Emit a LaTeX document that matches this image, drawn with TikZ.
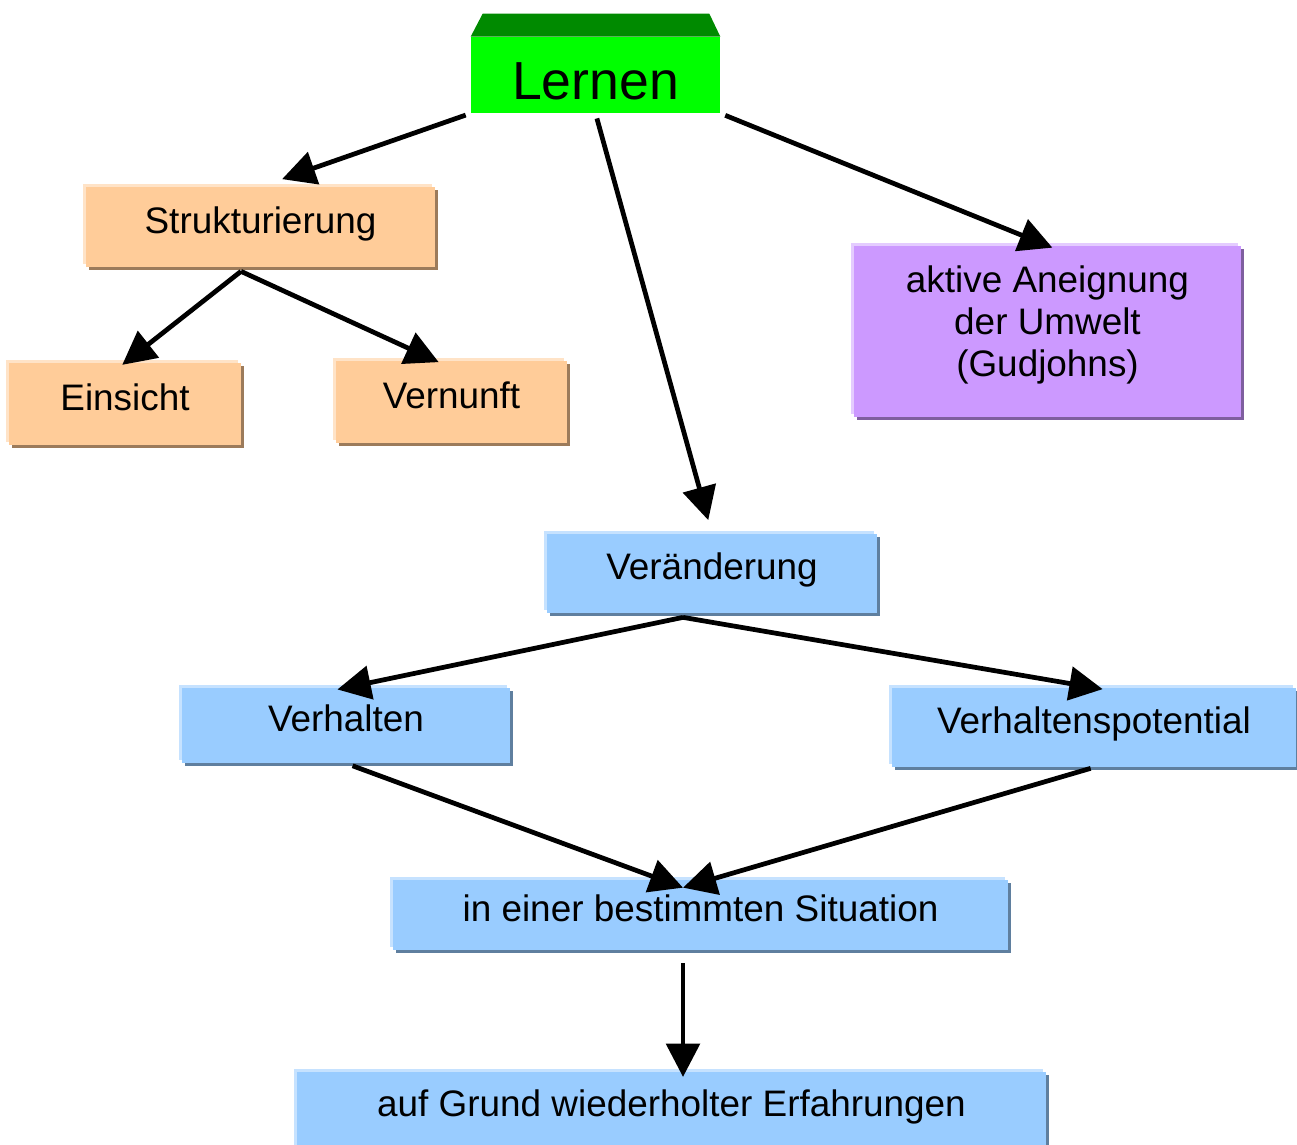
\documentclass[tikz,border=0pt]{standalone}
\usepackage{fontspec}
\setmainfont{Liberation Sans}
\usetikzlibrary{calc,arrows.meta,shadows}
\definecolor{lerngreen}{HTML}{00FF00}
\definecolor{lerndark}{HTML}{008A00}
\definecolor{orfill}{HTML}{FFCC99}
\definecolor{ordark}{HTML}{9C7B5B}
\definecolor{orlight}{HTML}{FFE3C7}
\definecolor{blfill}{HTML}{99CCFF}
\definecolor{bldark}{HTML}{5F7F9F}
\definecolor{bllight}{HTML}{C6E2FF}
\definecolor{pufill}{HTML}{CC99FF}
\definecolor{pudark}{HTML}{7F5F9F}
\definecolor{pulight}{HTML}{E4CCFF}

\begin{document}
\begin{tikzpicture}[x=0.02cm, y=-0.02cm,
    box/.style={rectangle, inner sep=0pt, align=center,
      font=\fontsize{21}{24}\selectfont},
    orbox/.style={box, fill=orfill, text height=15pt, text depth=8pt,
      general shadow={fill=orlight, shadow xshift=-1.5pt, shadow yshift=1.5pt},
      general shadow={fill=ordark, shadow xshift=1.5pt, shadow yshift=-1.5pt}},
    blbox/.style={box, fill=blfill, text height=15pt, text depth=8pt,
      general shadow={fill=bllight, shadow xshift=-1.5pt, shadow yshift=1.5pt},
      general shadow={fill=bldark, shadow xshift=1.5pt, shadow yshift=-1.5pt}},
    pubox/.style={box, fill=pufill,
      general shadow={fill=pulight, shadow xshift=-1.5pt, shadow yshift=1.5pt},
      general shadow={fill=pudark, shadow xshift=1.5pt, shadow yshift=-1.5pt}},
    arr/.style={-{Triangle[length=19pt,width=19pt]}, line width=2.7pt}]
    \useasboundingbox (0,0) rectangle (1297,1144);
    \node[box, fill=lerngreen, minimum width=4.98cm, minimum height=1.52cm,
      text height=28pt, text depth=0pt,
      font=\fontsize{30.5}{34}\selectfont] (lernen) at (595.5,75) {Lernen};
    \fill[lerndark] (lernen.north west) -- ++(12,-23) -- ($(lernen.north east)+(-11,-23)$)
      -- (lernen.north east) -- cycle;
    \node[orbox, minimum width=6.98cm, minimum height=1.6cm] (strukt) at (260.5,227) {Strukturierung};
    \node[orbox, minimum width=4.64cm, minimum height=1.64cm] (einsicht) at (125,404) {Einsicht};
    \node[orbox, minimum width=4.62cm, minimum height=1.64cm] (vernunft) at (451.5,402) {Vernunft};
    \node[pubox, minimum width=7.74cm, minimum height=3.42cm] (aktiv) at (1047.5,331.5)
      {aktive Aneignung\\der Umwelt\\(Gudjohns)\\[-12pt]};
    \node[blbox, minimum width=6.6cm, minimum height=1.58cm] (veraend) at (712,573.5) {Veränderung};
    \node[blbox, minimum width=6.56cm, minimum height=1.5cm] (verhalten) at (346,725.5) {Verhalten};
    \node[blbox, minimum width=8.08cm, minimum height=1.58cm] (vpot) at (1094,727.5) {Verhaltenspotential};
    \node[blbox, minimum width=12.3cm, minimum height=1.4cm] (situation) at (700.5,915)
      {in einer bestimmten Situation};
    \node[blbox, minimum width=14.98cm, minimum height=1.52cm] (grund) at (671.5,1110)
      {auf Grund wiederholter Erfahrungen};
    \coordinate (sfork) at ($(strukt.south)+(-19.5,4)$);
    \coordinate (vfork) at ($(veraend.south)+(-29,4)$);
    \coordinate (sjoin) at ($(situation.north)+(-17.5,8)$);
    \coordinate (sdown) at ($(situation.south)+(-17.5,13)$);
    \draw[arr, shorten <=3pt, shorten >=13pt] (lernen.south west) -- (strukt.north);
    \draw[arr, shorten <=3pt, shorten >=8pt] (lernen.south) -- (veraend.north);
    \draw[arr, shorten <=3pt, shorten >=-3pt] (lernen.south east) -- (aktiv.north);
    \draw[arr, shorten >=-2pt] (sfork) -- (einsicht.north);
    \draw[arr, shorten >=-2pt] (sfork) -- ($(vernunft.north)+(-16,0)$);
    \draw[arr, shorten >=-5pt] (vfork) -- (verhalten.north);
    \draw[arr, shorten >=-5pt] (vfork) -- (vpot.north);
    \draw[arr, shorten <=4pt] (verhalten.south) -- (sjoin);
    \draw[arr, shorten <=2pt] (vpot.south) -- (sjoin);
    \draw[arr, shorten >=-3pt] (sdown) -- (sdown |- grund.north);
\end{tikzpicture}
\end{document}
